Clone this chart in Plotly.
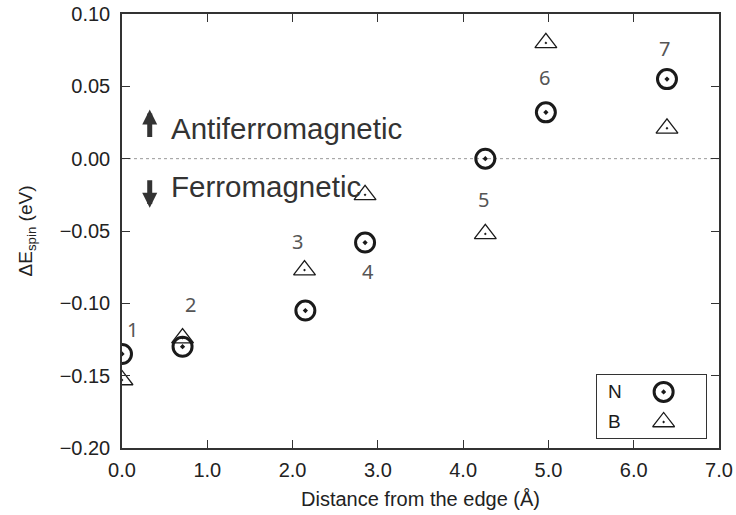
import plotly.graph_objects as go

# ---- data ----
n_x = [0.0, 0.71, 2.15, 2.85, 4.26, 4.97, 6.39]
n_y = [-0.135, -0.130, -0.105, -0.058, 0.000, 0.032, 0.055]
b_x = [0.0, 0.71, 2.14, 2.85, 4.26, 4.97, 6.39]
b_y = [-0.153, -0.124, -0.077, -0.025, -0.052, 0.080, 0.021]
site_labels = ["1", "2", "3", "4", "5", "6", "7"]
site_label_x = [0.12, 0.80, 2.06, 2.88, 4.24, 4.95, 6.36]
site_label_y = [-0.118, -0.101, -0.057, -0.078, -0.028, 0.056, 0.076]
legend_names = ["N", "B"]
x_ticks = [0, 1, 2, 3, 4, 5, 6, 7]
y_ticks = [-0.20, -0.15, -0.10, -0.05, 0.00, 0.05, 0.10]

FONT = "Liberation Sans"
AX = "#333333"

fig = go.Figure()

# zero reference line
fig.add_trace(go.Scatter(x=[0, 7], y=[0, 0], mode="lines",
                         line=dict(color="#999999", width=1, dash="dot"),
                         hoverinfo="skip", showlegend=False))

fig.add_trace(go.Scatter(x=n_x, y=n_y, mode="markers", name="N", showlegend=False,
                         marker=dict(symbol="circle-dot", size=19, color="rgba(0,0,0,0)",
                                     line=dict(color="#1a1a1a", width=3))))
fig.add_trace(go.Scatter(x=b_x, y=b_y, mode="markers", name="B", showlegend=False,
                         marker=dict(symbol="triangle-up-dot", size=19, color="rgba(0,0,0,0)",
                                     line=dict(color="#1a1a1a", width=1.3))))

# legend inset (text left of symbol)
fig.add_trace(go.Scatter(x=[0.61], y=[0.735], mode="markers", xaxis="x2", yaxis="y2",
                         showlegend=False, hoverinfo="skip",
                         marker=dict(symbol="circle-dot", size=19, color="rgba(0,0,0,0)",
                                     line=dict(color="#1a1a1a", width=3))))
fig.add_trace(go.Scatter(x=[0.61], y=[0.26], mode="markers", xaxis="x2", yaxis="y2",
                         showlegend=False, hoverinfo="skip",
                         marker=dict(symbol="triangle-up-dot", size=19, color="rgba(0,0,0,0)",
                                     line=dict(color="#1a1a1a", width=1.3))))
for name, yy in zip(legend_names, [0.735, 0.26]):
    fig.add_annotation(x=0.165, y=yy, xref="x2", yref="y2", text=name, showarrow=False,
                       font=dict(family=FONT, size=19, color="#1a1a1a"))

# site labels
for t, xx, yy in zip(site_labels, site_label_x, site_label_y):
    fig.add_annotation(x=xx, y=yy, text=t, showarrow=False,
                       font=dict(family="Noto Sans", size=20, color="#555555"))

# region annotations
fig.add_annotation(x=0.55, y=0.021, text="Antiferromagnetic", showarrow=False,
                   xanchor="left", yanchor="middle",
                   font=dict(family=FONT, size=29.5, color="#333333"))
fig.add_annotation(x=0.55, y=-0.019, text="Ferromagnetic", showarrow=False,
                   xanchor="left", yanchor="middle",
                   font=dict(family=FONT, size=29.5, color="#333333"))
fig.add_annotation(x=0.325, y=0.034, ax=0, ay=29, text="", showarrow=True,
                   arrowhead=2, arrowwidth=5, arrowsize=0.6, arrowcolor="#333333")
fig.add_annotation(x=0.325, y=-0.034, ax=0, ay=-29, text="", showarrow=True,
                   arrowhead=2, arrowwidth=5, arrowsize=0.6, arrowcolor="#333333")

axis_common = dict(showline=True, linecolor=AX, linewidth=1.5, mirror="ticks",
                   ticks="inside", ticklen=8, tickcolor=AX, tickwidth=1.3,
                   showgrid=False, zeroline=False, automargin=False,
                   tickfont=dict(family=FONT, size=20, color="#222222"))

fig.update_layout(
    width=736, height=515,
    margin=dict(l=122, r=17, t=14, b=67, autoexpand=False),
    paper_bgcolor="white", plot_bgcolor="white",
    xaxis=dict(range=[0, 7], tickvals=x_ticks, tickformat=".1f", ticklabelstandoff=3,
               title=dict(text="Distance from the edge (Å)", standoff=12,
                          font=dict(family=FONT, size=20, color="#222222")),
               **axis_common),
    yaxis=dict(range=[-0.2, 0.1], tickvals=y_ticks, tickformat=".2f", ticklabelstandoff=6,
               title=dict(text="ΔE<sub>spin</sub> (eV)", standoff=22,
                          font=dict(family=FONT, size=19, color="#222222")),
               **axis_common),
    xaxis2=dict(domain=[0.795, 0.979], range=[0, 1], anchor="y2",
                showline=True, mirror=True, linecolor=AX, linewidth=1.3,
                showticklabels=False, ticks="", showgrid=False, zeroline=False),
    yaxis2=dict(domain=[0.022, 0.168], range=[0, 1], anchor="x2",
                showline=True, mirror=True, linecolor=AX, linewidth=1.3,
                showticklabels=False, ticks="", showgrid=False, zeroline=False),
    showlegend=False,
)

fig.write_html("out.html")
